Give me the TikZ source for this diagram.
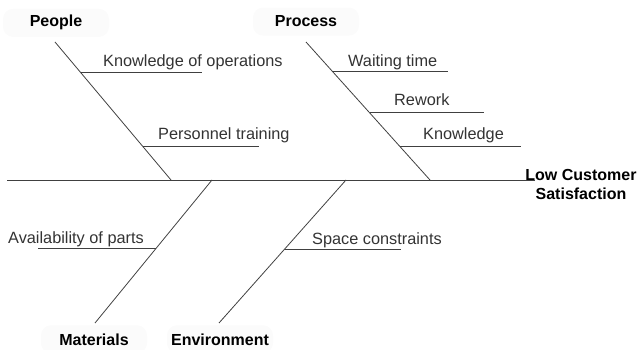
\documentclass[tikz,border=0pt]{standalone}
\usepackage{fontspec}
\setmainfont{Liberation Sans}
\usepackage{xcolor}
\definecolor{bonecol}{RGB}{64,64,64}
\definecolor{causecol}{RGB}{51,51,51}
\definecolor{labelbg}{RGB}{251,251,251}
\tikzstyle{category}=[font=\fontsize{16}{19}\selectfont\bfseries, fill=labelbg, rounded corners=10pt, minimum width=106pt, minimum height=28pt, inner sep=0pt]
\tikzstyle{cause}=[font=\fontsize{16.3}{19}\selectfont, text=causecol, anchor=base west, inner sep=0pt]
\tikzstyle{bone}=[line width=0.8pt, color=bonecol]
\tikzstyle{rib}=[line width=1pt, color=bonecol]

\begin{document}
\begin{tikzpicture}[x=1pt,y=-1pt]
  \useasboundingbox (0,0) rectangle (640,350);

  %% Spine
  \coordinate (T0) at (7,180);
  \coordinate (H0) at (535,180);
  \draw[bone] (T0) -- (H0);
  \draw (581,184) node[font=\fontsize{16}{19}\selectfont\bfseries, align=center, inner sep=0pt] (effect) {Low Customer\\Satisfaction};

  %% Categories
  \draw (56,27) node[category, anchor=base] (people) {People};
  \draw (306,27) node[category, anchor=base] (process) {Process};
  \draw (94,345) node[category, anchor=base] (materials) {Materials};
  \draw (220,345) node[category, anchor=base] (environment) {Environment};

  \coordinate (P1) at (55,42);   \coordinate (P2) at (171,180);
  \coordinate (R1) at (306,42);  \coordinate (R2) at (430,180);
  \coordinate (M1) at (95,323);  \coordinate (M2) at (212,180);
  \coordinate (E1) at (219,323); \coordinate (E2) at (346,180);

  \draw[bone] (P1) -- (P2);
  \draw[bone] (R1) -- (R2);
  \draw[bone] (M1) -- (M2);
  \draw[bone] (E1) -- (E2);

  %% Causes: People
  \coordinate (P11) at (81,73);   \coordinate (P12) at (202,73);
  \coordinate (P21) at (143,147); \coordinate (P22) at (259,147);
  \draw[rib] (P11) -- (P12);
  \draw[rib] (P21) -- (P22);
  \draw (103,67) node[cause] (knowops) {Knowledge of operations};
  \draw (158,140) node[cause] (training) {Personnel training};

  %% Causes: Process
  \coordinate (R11) at (333,72);  \coordinate (R12) at (448,72);
  \coordinate (R21) at (370,113); \coordinate (R22) at (484,113);
  \coordinate (R31) at (400,147); \coordinate (R32) at (521,147);
  \draw[rib] (R11) -- (R12);
  \draw[rib] (R21) -- (R22);
  \draw[rib] (R31) -- (R32);
  \draw (348,67) node[cause] (waiting) {Waiting time};
  \draw (394,106) node[cause] (rework) {Rework};
  \draw (423,140) node[cause] (knowledge) {Knowledge};

  %% Causes: Materials and Environment
  \coordinate (M11) at (38,248);  \coordinate (M12) at (156,248);
  \coordinate (E11) at (285,249); \coordinate (E12) at (401,249);
  \draw[rib] (M11) -- (M12);
  \draw[rib] (E11) -- (E12);
  \draw (8,243) node[cause] (parts) {Availability of parts};
  \draw (312,244) node[cause] (space) {Space constraints};
\end{tikzpicture}
\end{document}
